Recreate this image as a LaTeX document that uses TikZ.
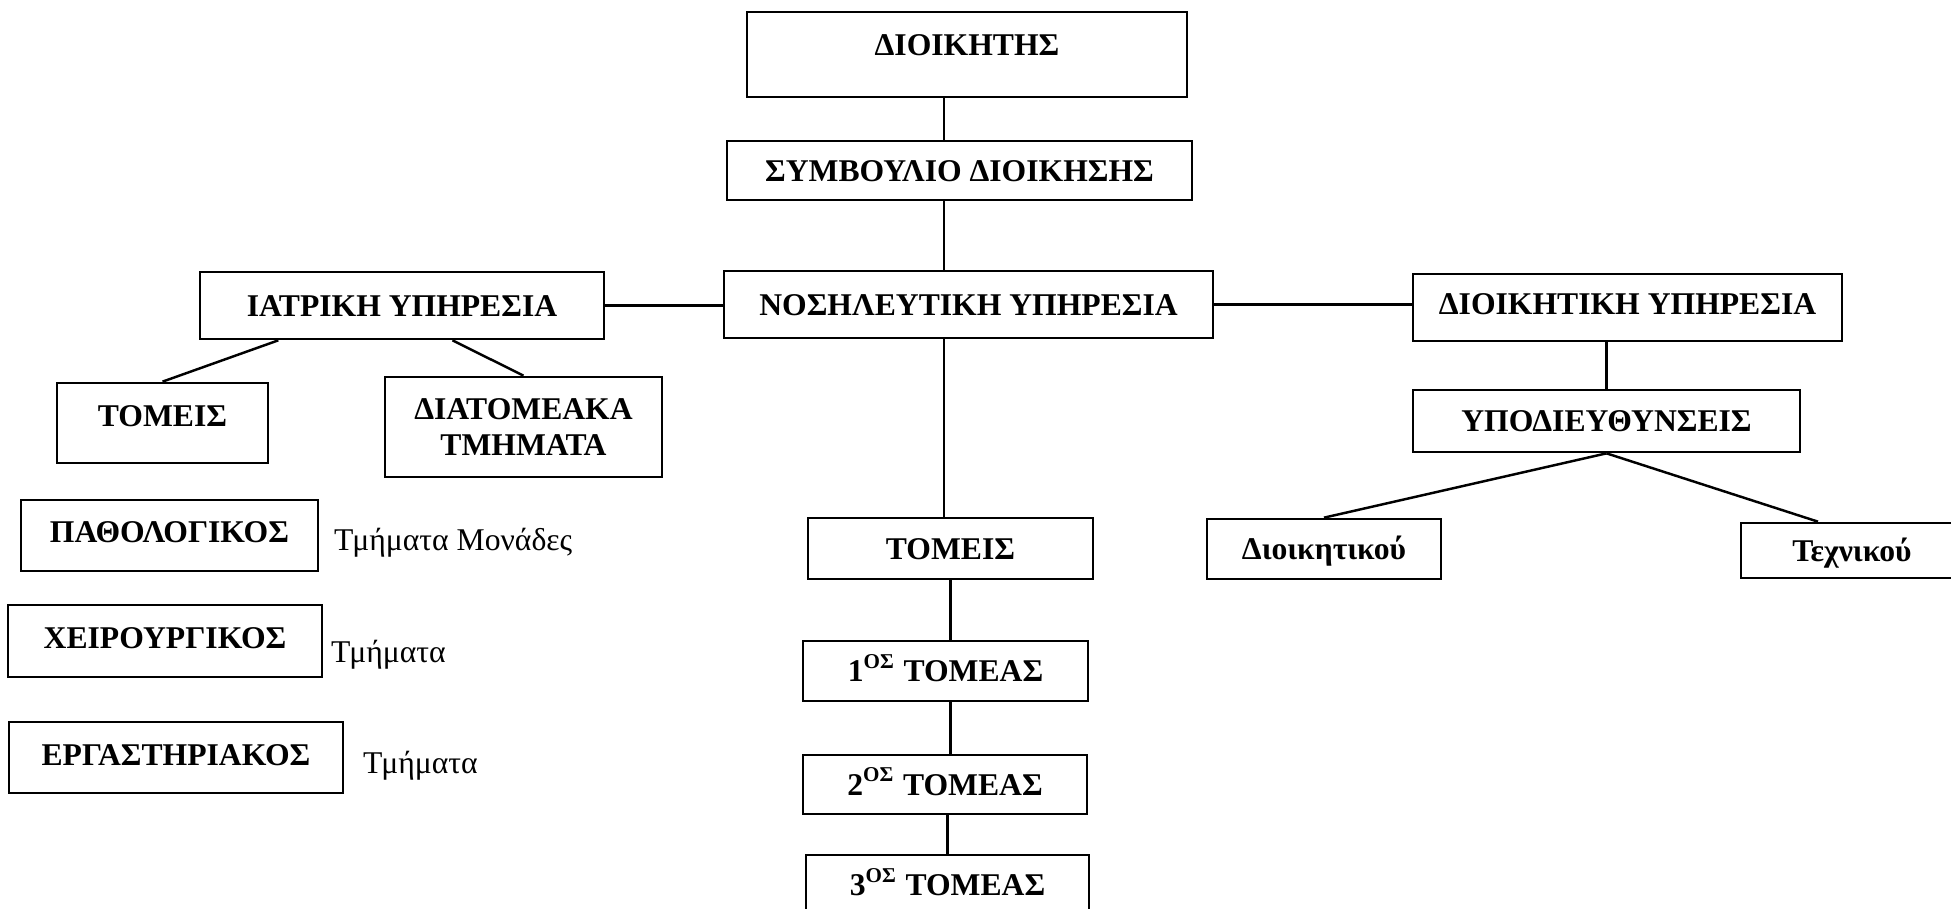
\documentclass[tikz,border=0pt]{standalone}
\usepackage{fontspec}
\setmainfont{Liberation Serif}
\usetikzlibrary{calc}
\tikzset{
  box/.style={draw, line width=0.75pt, inner sep=0pt, align=center,
    font=\bfseries\fontsize{9}{10.5}\selectfont},
  capline/.style={text height=0.21cm, text depth=#1},
  capline/.default=0cm,
  note/.style={inner sep=0pt, anchor=base west, font=\fontsize{9}{10.5}\selectfont}
}
\begin{document}
\begin{tikzpicture}[x=0.01cm, y=-0.01cm, line width=0.7pt]
  \useasboundingbox (0,0) rectangle (1951,909);
  \draw
    (967,54.5) node[box, capline=0.2cm, minimum width=4.40cm, minimum height=0.85cm] (dioikitis){ΔΙΟΙΚΗΤΗΣ}
    (959.5,170.5) node[box, capline, minimum width=4.65cm, minimum height=0.59cm] (symvoulio){ΣΥΜΒΟΥΛΙΟ ΔΙΟΙΚΗΣΗΣ}
    (968.5,304.5) node[box, capline, minimum width=4.89cm, minimum height=0.67cm] (nosil){ΝΟΣΗΛΕΥΤΙΚΗ ΥΠΗΡΕΣΙΑ}
    (402,305.5) node[box, capline, minimum width=4.04cm, minimum height=0.67cm] (iatr){ΙΑΤΡΙΚΗ ΥΠΗΡΕΣΙΑ}
    (1627.5,307.5) node[box, capline=0.08cm, minimum width=4.29cm, minimum height=0.67cm] (dioiky){ΔΙΟΙΚΗΤΙΚΗ ΥΠΗΡΕΣΙΑ}
    (162.5,423) node[box, capline=0.14cm, minimum width=2.11cm, minimum height=0.80cm] (tomeisL){ΤΟΜΕΙΣ}
    (523.5,427) node[box, minimum width=2.77cm, minimum height=1.00cm] (diatom){ΔΙΑΤΟΜΕΑΚΑ\\ΤΜΗΜΑΤΑ}
    (169.5,535.5) node[box, capline=0.07cm, minimum width=2.97cm, minimum height=0.71cm] (pathol){ΠΑΘΟΛΟΓΙΚΟΣ}
    (165,641) node[box, capline=0.06cm, minimum width=3.14cm, minimum height=0.72cm] (cheir){ΧΕΙΡΟΥΡΓΙΚΟΣ}
    (176,757.5) node[box, capline=0.05cm, minimum width=3.34cm, minimum height=0.71cm] (ergast){ΕΡΓΑΣΤΗΡΙΑΚΟΣ}
    (950.5,548.5) node[box, capline, minimum width=2.85cm, minimum height=0.61cm] (tomeis){ΤΟΜΕΙΣ}
    (945.5,671) node[box, capline, minimum width=2.85cm, minimum height=0.60cm] (tom1){1\textsuperscript{ΟΣ} ΤΟΜΕΑΣ}
    (945,784.5) node[box, capline, minimum width=2.84cm, minimum height=0.59cm] (tom2){2\textsuperscript{ΟΣ} ΤΟΜΕΑΣ}
    (947.5,885) node[box, capline, minimum width=2.83cm, minimum height=0.60cm] (tom3){3\textsuperscript{ΟΣ} ΤΟΜΕΑΣ}
    (1606.5,421) node[box, capline, minimum width=3.87cm, minimum height=0.62cm] (ypodiey){ΥΠΟΔΙΕΥΘΥΝΣΕΙΣ}
    (1324,549) node[box, capline, minimum width=2.34cm, minimum height=0.60cm] (dioikou){Διοικητικού}
    (1852,550.5) node[box, capline, minimum width=2.22cm, minimum height=0.55cm] (techn){Τεχνικού};
  \draw
    (333,550) node[note] (notepath){Τμήματα Μονάδες}
    (330,662) node[note] (notecheir){Τμήματα}
    (362,773) node[note] (noteergast){Τμήματα};
  \coordinate (trunk) at (944,0);
  \begin{scope}[-]
    \draw (trunk |- dioikitis.south) to (trunk |- symvoulio.north);
    \draw (trunk |- symvoulio.south) to (trunk |- nosil.north);
    \draw (iatr.east) to (iatr.east -| nosil.west);
    \draw (nosil.east) to (nosil.east -| dioiky.west);
    \draw ($(iatr.south west)!0.196!(iatr.south east)$) to (tomeisL.north);
    \draw ($(iatr.south west)!0.624!(iatr.south east)$) to (diatom.north);
    \draw (trunk |- nosil.south) to (trunk |- tomeis.north);
    \draw (tomeis.south) to (tomeis.south |- tom1.north);
    \draw (tomeis.south |- tom1.south) to (tomeis.south |- tom2.north);
    \draw (tom3.north |- tom2.south) to (tom3.north);
    \draw (ypodiey.north |- dioiky.south) to (ypodiey.north);
    \draw (ypodiey.south) to (dioikou.north);
    \draw (ypodiey.south) to ([xshift=-0.34cm]techn.north);
  \end{scope}
\end{tikzpicture}
\end{document}
